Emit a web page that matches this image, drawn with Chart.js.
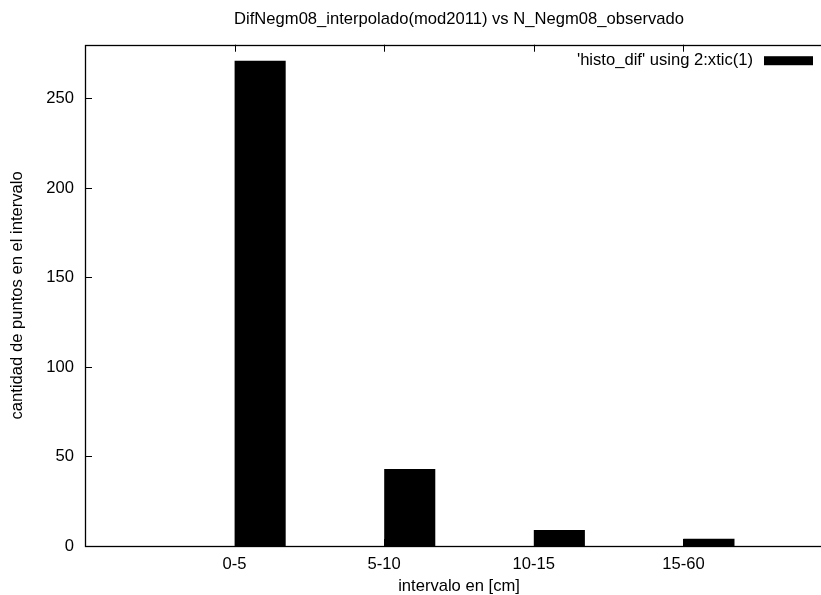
<!DOCTYPE html>
<html>
<head>
<meta charset="utf-8">
<script src="https://cdn.jsdelivr.net/npm/chart.js@4"></script>
<style>
  html, body { margin: 0; padding: 0; background: #fff; overflow: hidden; }
  #wrap { width: 841px; height: 595px; }
</style>
</head>
<body>
<div id="wrap"><canvas id="chart" width="841" height="595"></canvas></div>
<script>
// gnuplot histogram: xrange runs one slot past the data on both sides
const categories  = ['', '0-5', '5-10', '10-15', '15-60', ''];
const counts      = [null, 271, 43, 9, 4, null];
const yTickValues = [0, 50, 100, 150, 200, 250];
const yMax        = 280;

const FONT = { family: '"Liberation Sans", Arial, Helvetica, sans-serif', size: 16.6 };

// border box + inward tick marks, like gnuplot draws them
const frame = {
  id: 'frame',
  afterDatasetsDraw(chart) {
    const { ctx, chartArea: a, scales: { x, y } } = chart;
    const len = 7;
    ctx.save();
    ctx.strokeStyle = '#000';
    ctx.lineWidth = 1;
    ctx.beginPath();
    yTickValues.forEach(v => {
      const py = Math.round(y.getPixelForValue(v)) + 0.5;
      ctx.moveTo(a.left, py);  ctx.lineTo(a.left + len, py);
      ctx.moveTo(a.right, py); ctx.lineTo(a.right - len, py);
    });
    categories.forEach((c, i) => {
      if (!c) return;
      const px = Math.round(x.getPixelForValue(i)) + 0.5;
      ctx.moveTo(px, a.top);    ctx.lineTo(px, a.top + len);
      ctx.moveTo(px, a.bottom); ctx.lineTo(px, a.bottom - len);
    });
    ctx.stroke();
    ctx.lineWidth = 1.3;
    ctx.strokeRect(Math.round(a.left) + 0.5, Math.round(a.top) + 0.5,
                   Math.round(a.right - a.left), Math.round(a.bottom - a.top));
    ctx.restore();
  }
};

// gnuplot-style key: text first, sample box after it, inside the top right corner
const key = {
  id: 'key',
  afterDraw(chart) {
    const { ctx, chartArea: a } = chart;
    const ds = chart.data.datasets[1];
    const boxW = 49, boxH = 9;
    const boxRight = a.right - 20;
    const cy = a.top + 16;
    ctx.save();
    ctx.fillStyle = ds.backgroundColor;
    ctx.fillRect(boxRight - boxW, cy - boxH / 2, boxW, boxH);
    ctx.fillStyle = '#000';
    ctx.font = `${FONT.size}px ${FONT.family}`;
    ctx.textAlign = 'right';
    ctx.textBaseline = 'middle';
    ctx.fillText(ds.label, boxRight - boxW - 11, cy);
    ctx.restore();
  }
};

new Chart(document.getElementById('chart'), {
  type: 'bar',
  data: {
    labels: categories,
    datasets: [
      { label: 'spacer', data: categories.map(() => null), backgroundColor: 'rgba(0,0,0,0)' },
      {
        label: "'histo_dif' using 2:xtic(1)",
        data: counts,
        backgroundColor: '#000',
        borderWidth: 0
      }
    ]
  },
  options: {
    responsive: false,
    animation: false,
    devicePixelRatio: 1,
    layout: { padding: { right: 3 } },
    datasets: { bar: { categoryPercentage: 0.683, barPercentage: 1 } },
    plugins: {
      title: {
        display: true,
        fullSize: false,
        text: 'DifNegm08_interpolado(mod2011) vs N_Negm08_observado',
        color: '#000',
        font: { ...FONT, weight: 'normal' },
        padding: { top: 9.5, bottom: 15.3 }
      },
      legend: { display: false },
      tooltip: { enabled: false }
    },
    scales: {
      x: {
        offset: false,
        grid: { display: false, drawTicks: false },
        border: { display: false },
        ticks: { color: '#000', font: FONT, padding: 8, maxRotation: 0, autoSkip: false },
        title: { display: true, text: 'intervalo en [cm]', color: '#000', font: FONT, padding: { top: 0, bottom: -1.5 } },
        afterFit: s => { s.height = 49; }
      },
      y: {
        min: 0,
        max: yMax,
        grid: { display: false, drawTicks: false },
        border: { display: false },
        ticks: { color: '#000', font: FONT, padding: 11 },
        afterBuildTicks: s => { s.ticks = yTickValues.map(v => ({ value: v })); },
        title: { display: true, text: 'cantidad de puntos en el intervalo', color: '#000', font: FONT, padding: { top: 7.6, bottom: 0 } },
        afterFit: s => { s.width = 85; }
      }
    }
  },
  plugins: [frame, key]
});
</script>
</body>
</html>
